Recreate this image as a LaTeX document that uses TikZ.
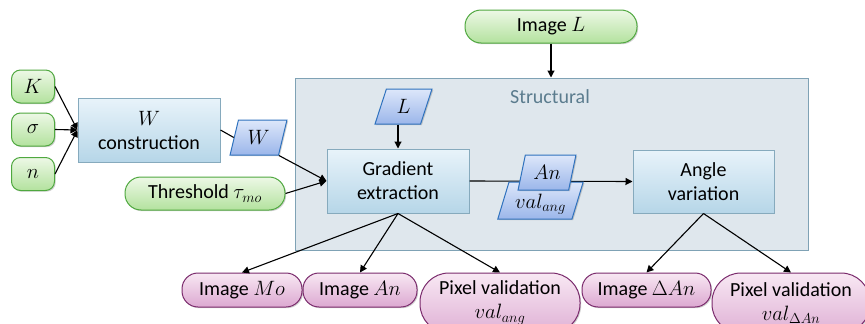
\documentclass[tikz,border=0pt]{standalone}
\usepackage{fontspec}
\setmainfont{Carlito}
\usetikzlibrary{shapes.geometric,shadows,arrows.meta}
\definecolor{boxtop}{HTML}{E8F3FA}
\definecolor{boxbot}{HTML}{B6D6E8}
\definecolor{boxdraw}{HTML}{86AABD}
\definecolor{greentop}{HTML}{EDF8E6}
\definecolor{greenbot}{HTML}{B3E29E}
\definecolor{greendraw}{HTML}{4FA83F}
\definecolor{purptop}{HTML}{F8E8F3}
\definecolor{purpbot}{HTML}{DCA8D1}
\definecolor{purpdraw}{HTML}{7A2A6C}
\definecolor{paratop}{HTML}{DDE7FA}
\definecolor{parabot}{HTML}{9BB6EA}
\definecolor{paradraw}{HTML}{2F72BE}
\definecolor{structfill}{HTML}{DFE7ED}
\definecolor{structdraw}{HTML}{7FA2B5}
\definecolor{structtext}{HTML}{5B7C8E}
\tikzset{
  every node/.style={font=\fontsize{20}{24}\selectfont, inner sep=0pt, align=center},
  shad/.style={drop shadow={shadow xshift=1.2pt, shadow yshift=-1.2pt, opacity=.3, fill=black!60}},
  procbox/.style={rectangle, draw=boxdraw, line width=1pt, top color=boxtop, bottom color=boxbot, shad, minimum width=142pt, minimum height=64pt},
  greenin/.style={rectangle, rounded corners=9pt, draw=greendraw, line width=1pt, top color=greentop, bottom color=greenbot, shad, minimum height=33pt},
  greenpill/.style={rectangle, rounded corners=16pt, draw=greendraw, line width=1pt, top color=greentop, bottom color=greenbot, shad, minimum height=33pt},
  purpout/.style={rectangle, rounded corners=16pt, draw=purpdraw, line width=1pt, top color=purptop, bottom color=purpbot, shad, minimum height=34pt},
  purpbig/.style={rectangle, rounded corners=29pt, draw=purpdraw, line width=1pt, top color=purptop, bottom color=purpbot!90, shad, minimum height=60pt},
  datapara/.style={trapezium, trapezium left angle=72, trapezium right angle=108, trapezium stretches=true, draw=paradraw, line width=1pt, top color=paratop, bottom color=parabot, shad, minimum height=35pt},
  conn/.style={draw=black, line width=1.1pt},
  arr/.style={conn, -{Triangle[length=7pt,width=7pt]}},
}
\begin{document}
\begin{tikzpicture}[x=1pt,y=-1pt]
\useasboundingbox (0,0) rectangle (865,324);
\clip (0,0) rectangle (865,324);
% container
\node[rectangle, draw=structdraw, line width=1pt, fill=structfill, shad, minimum width=513pt, minimum height=172pt] (struct) at (551.5,164) {};
\node[text=structtext] (structlbl) at (550,97) {Structural};
% inputs
\node[greenin, minimum width=43pt] (K) at (33,86.5) {$K$};
\node[greenin, minimum width=43pt] (sig) at (33,129.5) {$\sigma$};
\node[greenin, minimum width=43pt] (n) at (33,174) {$n$};
\node[procbox] (Wc) at (149,130) {$W$\\construction};
\node[datapara, minimum width=57pt] (Wp) at (258.5,137.5) {$W$};
\node[greenpill, minimum width=160pt] (thr) at (205,193.5) {Threshold $\tau_{mo}$};
\node[greenpill, minimum width=172pt] (imL) at (551,26.5) {Image $L$};
\node[datapara, minimum width=57pt] (Lp) at (403.5,106.5) {$L$};
\node[procbox] (grad) at (398,181) {Gradient\\extraction};
\node[procbox, minimum width=141pt, minimum height=63pt] (ang) at (703.5,181.5) {Angle\\variation};
% connectors
\draw[arr] (K.east) -- (Wc.west);
\draw[arr] (sig.east) -- (Wc.west);
\draw[arr] (n.east) -- (Wc.west);
\draw[conn] (Wc.east) -- (Wp.west);
\draw[arr] (Wp.bottom right corner) -- (grad.west);
\draw[arr] (thr.east) -- (grad.west);
\draw[arr] (imL.south) -- (imL.south |- struct.north);
\draw[arr] (grad.north |- Lp.south) -- (grad.north);
\draw[arr] (grad.east) -- (ang.west);
% data on the link
\node[datapara, minimum width=86pt, minimum height=37pt] (val) at (540.5,200.5) {\\[-2pt]$val_{ang}$};
\node[datapara, minimum width=58pt] (An) at (547,172.5) {$An$};
% outputs
\node[purpout, minimum width=120pt] (Mo) at (242,290) {Image $Mo$};
\node[purpout, minimum width=114pt] (imAn) at (360,290) {Image $An$};
\node[purpbig, minimum width=160pt] (pv1) at (500,303) {Pixel validation\\$val_{ang}$};
\node[purpout, minimum width=129pt] (imDAn) at (646.5,290) {Image $\Delta An$};
\node[purpbig, minimum width=158pt] (pv2) at (791,303) {Pixel validation\\$val_{\Delta An}$};
\draw[arr] (grad.south) -- (Mo.north);
\draw[arr] (grad.south) -- (imAn.north);
\draw[arr] (grad.south) -- (pv1.north);
\draw[arr] (ang.south) -- (imDAn.north);
\draw[arr] (ang.south) -- (pv2.north);
\end{tikzpicture}
\end{document}
